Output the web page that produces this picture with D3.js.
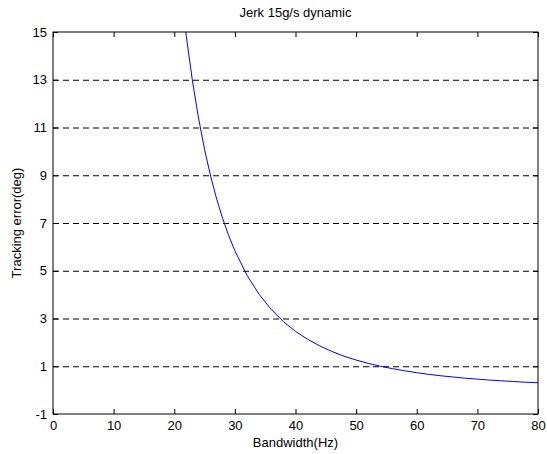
<!DOCTYPE html>
<html><head><meta charset="utf-8">
<script src="https://cdn.jsdelivr.net/npm/d3@7"></script>
<style>body{margin:0;background:#fff}svg{display:block}text{font-family:"Liberation Sans",Arial,sans-serif;fill:#000}</style>
</head><body><svg id="c" width="547" height="454"></svg>
<script>
const titleText = "Jerk 15g/s dynamic";
const xLabel = "Bandwidth(Hz)";
const yLabel = "Tracking error(deg)";
const xTicks = [0,10,20,30,40,50,60,70,80];
const yTicks = [-1,1,3,5,7,9,11,13,15];
const gridValues = [1,3,5,7,9,11,13];
const bandwidth = [21,22,23,24,25,26,27,28,29,30,32,34,36,38,40,42,44,46,48,50,52,54,56,58,60,62,64,66,68,70,72,74,76,78,80];
const trackErr = [17.0,14.8,12.95,11.4,10.08,8.96,8.0,7.18,6.46,5.84,4.81,4.01,3.38,2.87,2.46,2.13,1.85,1.62,1.42,1.26,1.12,1.0,0.90,0.81,0.73,0.66,0.60,0.55,0.50,0.46,0.42,0.39,0.36,0.33,0.31];

const svg = d3.select("#c");
const L=53,R=538,T=32,B=414;
const x = d3.scaleLinear().domain([0,80]).range([L,R]);
const y = d3.scaleLinear().domain([-1,15]).range([B,T]);

svg.append("defs").append("clipPath").attr("id","clip").append("rect")
  .attr("x",L).attr("y",T).attr("width",R-L).attr("height",B-T);

svg.append("g").selectAll("line").data(gridValues).join("line")
  .attr("x1",L).attr("x2",R).attr("y1",d=>y(d)+0.5).attr("y2",d=>y(d)+0.5)
  .attr("stroke","#000").attr("stroke-width",1).attr("stroke-dasharray","6,4");

const line = d3.line().x((d,i)=>x(bandwidth[i])).y(d=>y(d));
svg.append("path").datum(trackErr).attr("clip-path","url(#clip)")
  .attr("d",line).attr("fill","none").attr("stroke","#0000ff").attr("stroke-width",1);

const tl=5;
const fmt = d=>String(d);
const axB = d3.axisBottom(x).tickValues(xTicks).tickSize(-tl).tickPadding(7).tickFormat(fmt);
const axT = d3.axisTop(x).tickValues(xTicks).tickSize(-tl).tickFormat("");
const axL = d3.axisLeft(y).tickValues(yTicks).tickSize(-tl).tickPadding(6).tickFormat(fmt);
const axR = d3.axisRight(y).tickValues(yTicks).tickSize(-tl).tickFormat("");
function style(g){g.select(".domain").remove();g.selectAll("line").attr("stroke","#000");g.selectAll("text").style("font-size","13px").attr("fill","#000");}
svg.append("g").attr("transform",`translate(0,${B})`).call(axB).call(style);
svg.append("g").attr("transform",`translate(0,${T})`).call(axT).call(style);
svg.append("g").attr("transform",`translate(${L},0)`).call(axL).call(style);
svg.append("g").attr("transform",`translate(${R},0)`).call(axR).call(style);
svg.append("rect").attr("x",L).attr("y",T).attr("width",R-L).attr("height",B-T)
  .attr("fill","none").attr("stroke","#000").attr("stroke-width",1);

svg.append("text").attr("x",(L+R)/2).attr("y",17).attr("text-anchor","middle").style("font-size","13px").text(titleText);
svg.append("text").attr("x",(L+R)/2).attr("y",447).attr("text-anchor","middle").style("font-size","13px").text(xLabel);
svg.append("text").attr("transform",`translate(21,${(T+B)/2}) rotate(-90)`).attr("text-anchor","middle").style("font-size","13px").text(yLabel);
</script></body></html>
